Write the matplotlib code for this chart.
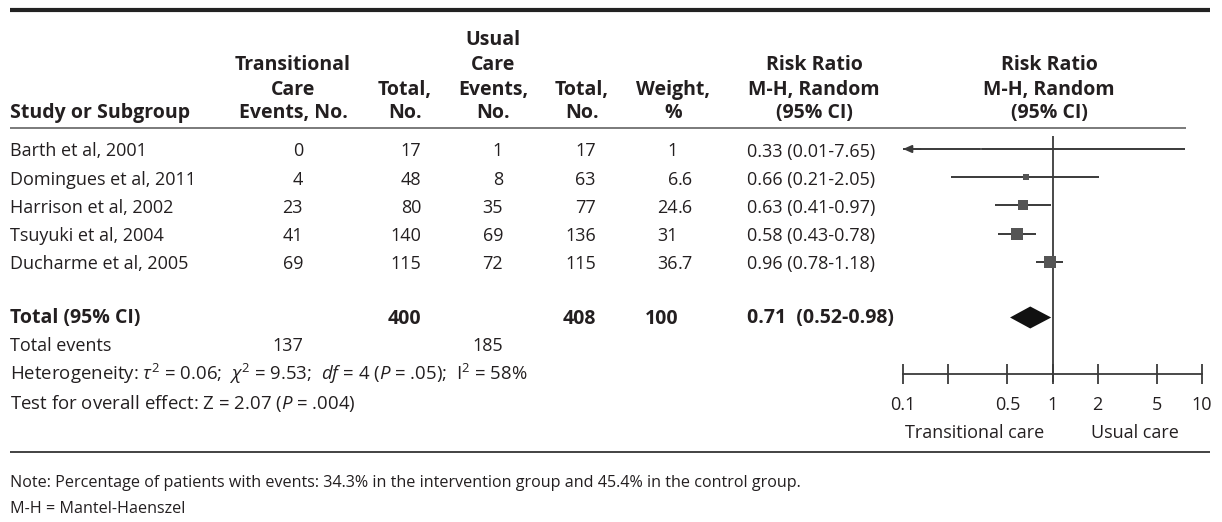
import matplotlib
matplotlib.use('Agg')
import matplotlib.pyplot as plt
import numpy as np

plt.rcParams.update({
    'font.family': ['Open Sans', 'DejaVu Sans'],
    'mathtext.fontset': 'custom',
    'mathtext.rm': 'Open Sans',
    'mathtext.it': 'Open Sans:italic',
    'mathtext.bf': 'Open Sans:bold',
})

# ---- data ----
studies = ["Barth et al, 2001", "Domingues et al, 2011", "Harrison et al, 2002",
           "Tsuyuki et al, 2004", "Ducharme et al, 2005"]
tc_events = [0, 4, 23, 41, 69]
tc_total = [17, 48, 80, 140, 115]
uc_events = [1, 8, 35, 69, 72]
uc_total = [17, 63, 77, 136, 115]
weights = ["1", "6.6", "24.6", "31", "36.7"]
rr = [0.33, 0.66, 0.63, 0.58, 0.96]
ci_lo = [0.01, 0.21, 0.41, 0.43, 0.78]
ci_hi = [7.65, 2.05, 0.97, 0.78, 1.18]

total_tc, total_uc, total_weight = 400, 408, "100"
total_rr, total_lo, total_hi = 0.71, 0.52, 0.98
events_tc, events_uc = 137, 185

x_ticks = [0.1, 0.2, 0.5, 1, 2, 5, 10]
x_ticklabels = ["0.1", "", "0.5", "1", "2", "5", "10"]

# ---- layout (pixel coordinates) ----
W, H = 1222, 522
TXT = '#231f20'
FS = 13          # body text
FSB = 14         # bold header text
FSN = 11.6       # footnotes
row_base0, row_h = 156.5, 28.2

fig = plt.figure(figsize=(W / 100, H / 100), dpi=100)
ax = fig.add_axes([0, 0, 1, 1])
ax.set_xlim(0, W)
ax.set_ylim(H, 0)
ax.axis('off')

# rules
ax.plot([10, 1210], [9.5, 9.5], color='#222222', lw=3.0, solid_capstyle='butt')
ax.plot([10, 1186], [128, 128], color='#7a7a7a', lw=1.4, solid_capstyle='butt')
ax.plot([10, 1210], [452, 452], color='#222222', lw=1.2, solid_capstyle='butt')

# header
hdr_lines = [45, 70, 95, 118]
def header(x, lines, ha='center'):
    for i, s in enumerate(lines):
        ax.text(x, hdr_lines[len(hdr_lines) - len(lines) + i], s, ha=ha, va='baseline',
                fontsize=FSB, fontweight='bold', color=TXT)

header(10, ["Study or Subgroup"], ha='left')
header(293, ["Transitional", "Care", "Events, No."])
header(405, ["Total,", "No."])
header(493, ["Usual", "Care", "Events,", "No."])
header(582, ["Total,", "No."])
header(673, ["Weight,", "%"])
header(814, ["Risk Ratio", "M-H, Random", "(95% CI)"])
header(1049, ["Risk Ratio", "M-H, Random", "(95% CI)"])

col_tc, col_tct, col_uc, col_uct, col_w, col_rr = 303, 421, 503, 596, 678, 747

def weight_text(x, y, s, bold=False, fs=FS):
    ip, _, dp = s.partition('.')
    fw = 'bold' if bold else 'normal'
    ax.text(x, y, ip, ha='right', va='baseline', fontsize=fs, color=TXT, fontweight=fw)
    if dp:
        ax.text(x, y, '.' + dp, ha='left', va='baseline', fontsize=fs, color=TXT, fontweight=fw)

for i, name in enumerate(studies):
    y = row_base0 + i * row_h
    ax.text(10, y, name, ha='left', va='baseline', fontsize=FS, color=TXT)
    ax.text(col_tc, y, str(tc_events[i]), ha='right', va='baseline', fontsize=FS, color=TXT)
    ax.text(col_tct, y, str(tc_total[i]), ha='right', va='baseline', fontsize=FS, color=TXT)
    ax.text(col_uc, y, str(uc_events[i]), ha='right', va='baseline', fontsize=FS, color=TXT)
    ax.text(col_uct, y, str(uc_total[i]), ha='right', va='baseline', fontsize=FS, color=TXT)
    weight_text(col_w, y, weights[i])
    ax.text(col_rr, y, f"{rr[i]:.2f} ({ci_lo[i]:.2f}-{ci_hi[i]:.2f})", ha='left',
            va='baseline', fontsize=FS, color=TXT)

y_total, y_events, y_het, y_test = 323.5, 351, 380.5, 409
ax.text(10, y_total, "Total (95% CI)", ha='left', va='baseline', fontsize=FSB,
        fontweight='bold', color=TXT)
ax.text(col_tct, y_total, str(total_tc), ha='right', va='baseline', fontsize=FSB,
        fontweight='bold', color=TXT)
ax.text(col_uct, y_total, str(total_uc), ha='right', va='baseline', fontsize=FSB,
        fontweight='bold', color=TXT)
weight_text(col_w, y_total, total_weight, bold=True, fs=FSB)
ax.text(col_rr, y_total, f"{total_rr:.2f}  ({total_lo:.2f}-{total_hi:.2f})", ha='left',
        va='baseline', fontsize=FSB, fontweight='bold', color=TXT)

ax.text(10, y_events, "Total events", ha='left', va='baseline', fontsize=FS, color=TXT)
ax.text(col_tc, y_events, str(events_tc), ha='right', va='baseline', fontsize=FS, color=TXT)
ax.text(col_uc, y_events, str(events_uc), ha='right', va='baseline', fontsize=FS, color=TXT)
ax.text(10, y_het, r"Heterogeneity: $\tau^2$ = 0.06;  $\chi^2$ = 9.53;  $df$ = 4 ($P$ = .05);  I$^2$ = 58%",
        ha='left', va='baseline', fontsize=13.4, color=TXT)
ax.text(10, y_test, r"Test for overall effect: Z = 2.07 ($P$ = .004)",
        ha='left', va='baseline', fontsize=13.4, color=TXT)

ax.text(10, 487, "Note: Percentage of patients with events: 34.3% in the intervention group and 45.4% in the control group.",
        ha='left', va='baseline', fontsize=FSN, color=TXT)
ax.text(10, 513, "M-H = Mantel-Haenszel", ha='left', va='baseline', fontsize=FSN, color=TXT)

# ---- forest plot ----
x0, x1 = 903, 1202
fx = fig.add_axes([x0 / W, 0, (x1 - x0) / W, 1])
fx.set_xscale('log')
fx.set_xlim(0.1, 10)
fx.set_ylim(H, 0)
fx.patch.set_alpha(0)
for s in ['top', 'left', 'right']:
    fx.spines[s].set_visible(False)
fx.spines['bottom'].set_position(('data', 374))
fx.spines['bottom'].set_color('#3a3a3a')
fx.spines['bottom'].set_linewidth(1.3)
fx.set_yticks([])
fx.set_xticks(x_ticks)
fx.set_xticklabels(x_ticklabels)
fx.xaxis.set_minor_locator(matplotlib.ticker.NullLocator())
fx.tick_params(axis='x', direction='inout', length=14, width=1.3, color='#3a3a3a',
               labelsize=FS, labelcolor=TXT, pad=8.5)

fx.vlines(1, 136, 382, color='#3a3a3a', lw=1.3, zorder=3)

ci_col = '#3a3a3a'
for i in range(len(studies)):
    y = row_base0 + i * row_h - 7.5
    lo = max(ci_lo[i], 0.1)
    fx.plot([lo, ci_hi[i]], [y, y], color=ci_col, lw=1.4, solid_capstyle='butt', zorder=2)
    if ci_lo[i] < 0.1:
        fx.annotate('', xy=(0.1, y), xytext=(0.13, y),
                    arrowprops=dict(arrowstyle='-|>,head_length=0.5,head_width=0.22',
                                    color=ci_col, lw=1.4, shrinkA=0, shrinkB=0))
    size = 2.0 * np.sqrt(float(weights[i])) * 0.72
    fx.plot(rr[i], y, marker='s', markersize=size, color='#555555',
            markeredgewidth=0, zorder=4)

yd = y_total - 6
fx.fill([total_lo, total_rr, total_hi, total_rr], [yd, yd - 11, yd, yd + 11],
        color='#111111', lw=0, zorder=4)

fx.text(0.3, 438, "Transitional care", ha='center', va='baseline', fontsize=FS, color=TXT)
fx.text(3.56, 438, "Usual care", ha='center', va='baseline', fontsize=FS, color=TXT)

fig.savefig('out.png', dpi=100)
